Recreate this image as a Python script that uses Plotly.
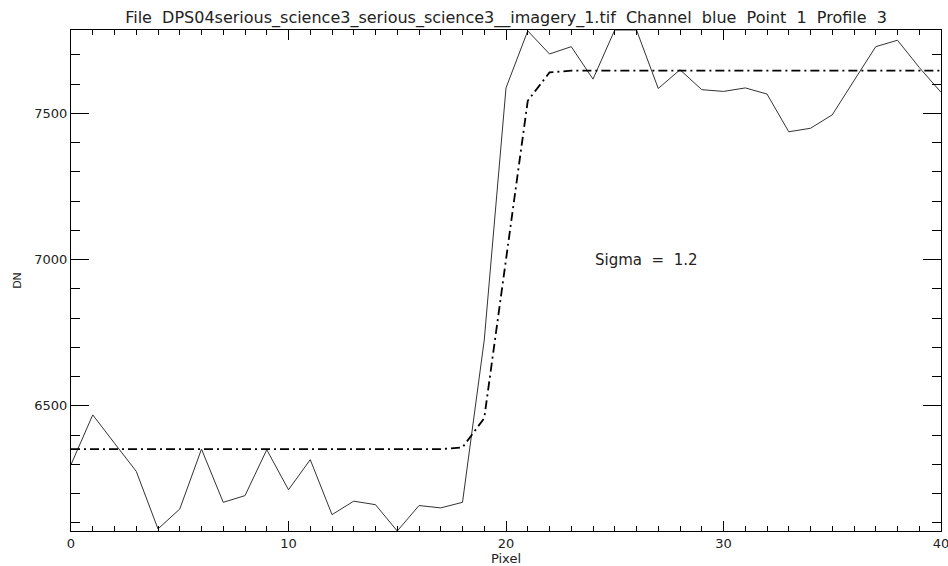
import plotly.graph_objects as go

pixel = list(range(41))
dn_profile = [6299, 6469, 6372, 6276, 6079, 6147, 6352, 6170, 6193, 6350,
              6213, 6316, 6128, 6174, 6162, 6072, 6159, 6151, 6170, 6725,
              7587, 7782, 7703, 7728, 7617, 7785, 7785, 7585, 7649, 7581,
              7575, 7587, 7566, 7437, 7449, 7495, 7612, 7728, 7750, 7657,
              7572]
dn_fit = [6352] * 18 + [6358, 6458, 7000, 7543, 7640] + [7646] * 18

x_ticks = [0, 10, 20, 30, 40]
y_ticks = [6500, 7000, 7500]

title = "File  DPS04serious_science3_serious_science3__imagery_1.tif  Channel  blue  Point  1  Profile  3"
sigma_text = "Sigma  =  1.2"
sigma_pos = (24.0, 7000)

font_family = "DejaVu Sans"
ink = "#222222"

fig = go.Figure()
fig.add_trace(go.Scatter(x=pixel, y=dn_profile, mode="lines",
                         line=dict(color="#333333", width=1)))
fig.add_trace(go.Scatter(x=pixel, y=dn_fit, mode="lines",
                         line=dict(color="black", width=1.8, dash="9px,4px,2px,4px")))

fig.add_annotation(x=sigma_pos[0], y=sigma_pos[1], text=sigma_text, showarrow=False,
                   xanchor="left", yanchor="middle",
                   font=dict(family=font_family, size=15, color=ink))

axis_common = dict(showgrid=False, zeroline=False, showline=True, linecolor="black",
                   linewidth=1, mirror="ticks", ticks="inside", tickcolor="black",
                   tickwidth=1, tickmode="array", automargin=False,
                   ticklabeloverflow="allow",
                   tickfont=dict(family=font_family, size=13, color=ink))

fig.update_xaxes(range=[0, 40], tickvals=x_ticks, ticktext=[str(v) for v in x_ticks],
                 ticklen=10,
                 minor=dict(tickmode="linear", tick0=0, dtick=1, ticks="inside", ticklen=5, tickcolor="black"),
                 title=dict(text="Pixel", font=dict(family=font_family, size=13, color=ink), standoff=4),
                 **axis_common)
fig.update_yaxes(range=[min(dn_profile), max(dn_profile)], tickvals=y_ticks,
                 ticktext=[str(v) for v in y_ticks], ticklen=18,
                 minor=dict(tickmode="linear", tick0=0, dtick=100, ticks="inside", ticklen=9, tickcolor="black"),
                 title=dict(text="DN", font=dict(family=font_family, size=11, color=ink), standoff=10),
                 **axis_common)

fig.update_layout(
    width=948, height=566,
    margin=dict(l=71, r=7, t=30, b=35),
    plot_bgcolor="white", paper_bgcolor="white",
    showlegend=False,
    title=dict(text=title, x=0.5338, xanchor="center", y=0.97, yanchor="middle",
               font=dict(family=font_family, size=16, color=ink)),
)

fig.write_html("out.html")
